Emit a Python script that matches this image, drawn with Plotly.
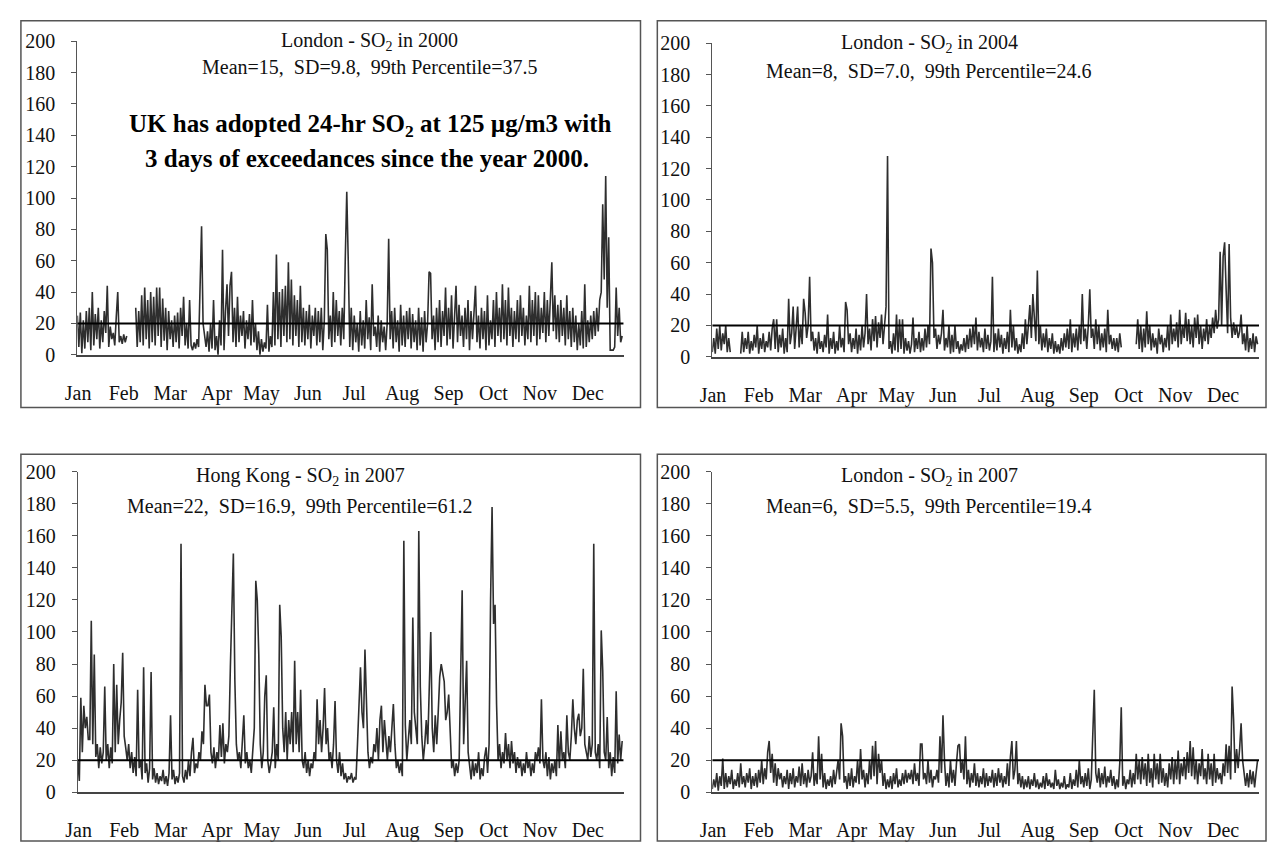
import plotly.graph_objects as go

N = None
# ---------------- data (approx. daily values, µg/m3) ----------------
months = ["Jan", "Feb", "Mar", "Apr", "May", "Jun", "Jul", "Aug", "Sep", "Oct", "Nov", "Dec"]
month_tick_days = [0.5, 31, 62, 93, 123, 154, 185, 217, 248, 278, 309, 341]
y_ticks = [0, 20, 40, 60, 80, 100, 120, 140, 160, 180, 200]
threshold = 20

london_2000 = [
    25, 5, 27, 1, 22, 4, 28, 8, 30, 3,
    40, 6, 26, 10, 30, 4, 22, 8, 28, 14,
    44, 5, 18, 10, 14, 6, 24, 40, 8, 12,
    7, 13, 8, 12, N, N, N, N, N, 30,
    5, 28, 8, 38, 6, 43, 10, 35, 4, 40,
    8, 37, 6, 43, 12, 43, 5, 36, 9, 30,
    3, 28, 10, 22, 5, 25, 8, 27, 4, 30,
    12, 37, 6, 20, 4, 35, 6, 3, 8, 4,
    10, 5, 48, 82, 20, 10, 5, 15, 2, 20,
    4, 35, 3, 12, 0, 22, 6, 67, 3, 28,
    45, 12, 44, 53, 8, 30, 5, 37, 8, 25,
    12, 28, 4, 22, 10, 26, 6, 35, 8, 20,
    3, 15, 0, 10, 2, 8, 4, 32, 2, 12,
    5, 40, 6, 64, 10, 40, 5, 42, 12, 44,
    8, 59, 10, 48, 6, 38, 12, 35, 5, 44,
    8, 30, 6, 28, 10, 32, 4, 25, 12, 30,
    6, 28, 8, 30, 3, 22, 77, 67, 10, 25,
    5, 40, 8, 35, 12, 28, 6, 30, 10, 61,
    104, 60, 5, 30, 3, 25, 8, 20, 2, 28,
    6, 22, 4, 35, 10, 24, 3, 45, 12, 18,
    5, 25, 2, 22, 8, 18, 3, 20, 74, 10,
    28, 4, 30, 8, 22, 2, 32, 6, 25, 5,
    28, 10, 30, 4, 26, 8, 22, 3, 30, 6,
    24, 2, 28, 8, 20, 53, 52, 10, 25, 3,
    30, 8, 35, 5, 28, 12, 43, 6, 30, 10,
    38, 4, 28, 44, 8, 32, 12, 25, 5, 30,
    10, 35, 3, 28, 10, 32, 44, 8, 25, 4,
    30, 10, 28, 3, 38, 6, 22, 10, 35, 5,
    40, 12, 30, 8, 45, 10, 35, 6, 43, 12,
    30, 5, 28, 10, 35, 8, 38, 12, 30, 6,
    25, 10, 44, 8, 35, 12, 40, 6, 38, 10,
    30, 14, 40, 8, 35, 12, 42, 59, 15, 38,
    10, 32, 8, 35, 12, 30, 6, 38, 10, 28,
    5, 30, 8, 25, 3, 20, 6, 28, 4, 45,
    5, 22, 8, 25, 10, 28, 12, 30, 15, 35,
    40, 96, 48, 114, 30, 75, 3, 3, 3, 5,
    43, 12, 30, 8, 12,
]

london_2004 = [
    3, 12, 2, 18, 5, 20, 4, 15, 8, 20,
    3, 12, 3, N, N, N, N, N, N, 2,
    16, 3, 12, 5, 16, 2, 10, 4, 14, 6,
    20, 2, 12, 5, 15, 3, 10, 6, 16, 4,
    18, 24, 5, 24, 3, 14, 6, 18, 2, 12,
    3, 37, 8, 15, 32, 5, 18, 32, 6, 20,
    8, 37, 28, 12, 20, 51, 10, 16, 4, 12,
    2, 16, 5, 10, 3, 14, 6, 27, 2, 12,
    5, 16, 2, 10, 4, 20, 6, 12, 3, 35,
    30, 8, 15, 3, 12, 5, 18, 2, 14, 4,
    20, 6, 15, 40, 8, 18, 4, 24, 10, 26,
    6, 22, 12, 27, 8, 20, 32, 128, 5, 10,
    2, 15, 4, 27, 3, 24, 5, 24, 2, 12,
    4, 10, 2, 8, 25, 3, 12, 5, 16, 3,
    12, 4, 18, 6, 20, 8, 69, 60, 12, 18,
    5, 14, 8, 15, 30, 4, 12, 6, 20, 2,
    14, 3, 20, 5, 10, 2, 8, 4, 12, 3,
    14, 5, 18, 6, 20, 8, 25, 4, 16, 6,
    12, 3, 18, 5, 14, 4, 10, 51, 3, 15,
    4, 18, 6, 14, 2, 12, 5, 16, 3, 30,
    6, 20, 4, 12, 2, 8, 3, 15, 5, 24,
    8, 20, 33, 12, 40, 25, 10, 55, 8, 20,
    4, 15, 6, 18, 3, 12, 5, 15, 2, 10,
    3, 8, 2, 12, 4, 15, 6, 18, 5, 24,
    3, 15, 6, 18, 4, 20, 8, 40, 10, 18,
    5, 20, 43, 12, 18, 5, 24, 8, 20, 4,
    15, 6, 18, 3, 30, 8, 14, 5, 12, 4,
    12, 3, 15, 6, N, N, N, N, N, N,
    N, N, N, 8, 24, 5, 20, 3, 18, 6,
    29, 8, 20, 4, 15, 6, 12, 2, 18, 8,
    14, 3, 12, 6, 20, 4, 27, 8, 18, 10,
    22, 6, 30, 8, 20, 12, 28, 10, 24, 8,
    20, 6, 25, 12, 27, 8, 20, 5, 18, 10,
    24, 8, 20, 12, 25, 15, 30, 18, 24, 67,
    20, 64, 73, 43, 15, 72, 25, 12, 22, 14,
    20, 12, 16, 27, 8, 15, 4, 20, 3, 12,
    5, 15, 3, 13, 8,
]

hongkong_2007 = [
    20, 7, 59, 25, 54, 40, 47, 33, 33, 107,
    30, 86, 22, 30, 15, 28, 18, 25, 66, 20,
    30, 15, 28, 18, 80, 25, 67, 30, 45, 56,
    87, 35, 28, 20, 30, 15, 25, 12, 22, 10,
    64, 15, 20, 8, 78, 12, 18, 6, 15, 75,
    8, 15, 6, 12, 5, 10, 7, 14, 5, 10,
    4, 12, 48, 8, 14, 5, 10, 6, 12, 155,
    10, 6, 14, 8, 20, 10, 25, 34, 12, 18,
    15, 25, 20, 38, 30, 67, 54, 54, 61, 25,
    18, 28, 15, 25, 20, 42, 22, 43, 18, 30,
    25, 35, 78, 123, 149, 70, 30, 20, 25, 15,
    30, 48, 18, 25, 15, 20, 12, 28, 40, 132,
    120, 86, 30, 15, 25, 60, 73, 20, 12, 18,
    25, 53, 15, 30, 20, 117, 97, 40, 25, 50,
    20, 45, 30, 50, 25, 82, 30, 50, 25, 64,
    20, 15, 25, 12, 20, 10, 18, 15, 25, 20,
    58, 30, 45, 25, 40, 65, 30, 40, 20, 25,
    15, 30, 57, 20, 12, 25, 10, 18, 8, 12,
    6, 10, 8, 12, 6, 9, 8, 30, 50, 78,
    50, 40, 89, 55, 25, 15, 22, 18, 30, 25,
    40, 20, 45, 54, 25, 45, 30, 20, 35, 25,
    40, 55, 30, 15, 20, 12, 18, 10, 157, 42,
    20, 35, 45, 30, 109, 50, 40, 30, 163, 66,
    35, 20, 30, 45, 30, 60, 100, 40, 25, 48,
    30, 50, 72, 80, 74, 69, 45, 50, 61, 35,
    15, 20, 10, 18, 12, 20, 68, 126, 30, 63,
    82, 25, 15, 8, 20, 10, 18, 12, 25, 8,
    15, 10, 22, 28, 12, 30, 120, 178, 105, 117,
    55, 20, 30, 15, 25, 18, 37, 20, 30, 15,
    32, 18, 25, 12, 22, 15, 20, 10, 18, 12,
    25, 15, 20, 10, 18, 12, 25, 20, 28, 18,
    58, 20, 15, 25, 10, 22, 8, 18, 12, 20,
    10, 42, 15, 38, 20, 25, 15, 48, 25, 20,
    35, 58, 40, 30, 45, 49, 35, 40, 77, 30,
    25, 20, 35, 22, 30, 155, 25, 20, 30, 15,
    101, 76, 25, 20, 47, 15, 25, 10, 22, 12,
    63, 18, 36, 20, 32,
]

london_2007 = [
    2, 8, 3, 12, 1, 10, 4, 21, 2, 12,
    3, 10, 5, 14, 2, 8, 4, 12, 3, 18,
    5, 10, 3, 12, 6, 15, 2, 10, 4, 12,
    3, 14, 6, 20, 5, 15, 8, 25, 32, 12,
    24, 6, 18, 4, 15, 8, 12, 3, 10, 5,
    14, 2, 12, 5, 15, 3, 10, 6, 16, 4,
    18, 5, 12, 3, 14, 6, 10, 25, 4, 12,
    5, 35, 8, 24, 3, 12, 2, 8, 4, 10,
    3, 14, 5, 12, 20, 8, 43, 35, 6, 10,
    2, 12, 4, 15, 3, 10, 6, 20, 5, 27,
    8, 14, 3, 12, 5, 20, 8, 29, 10, 32,
    5, 24, 12, 20, 4, 12, 2, 8, 3, 10,
    2, 12, 5, 15, 3, 8, 4, 12, 5, 14,
    6, 12, 8, 14, 5, 18, 7, 12, 4, 30,
    30, 8, 12, 5, 20, 6, 14, 3, 10, 8,
    14, 6, 35, 12, 48, 20, 4, 12, 3, 20,
    6, 14, 4, 18, 29, 30, 12, 20, 8, 35,
    5, 14, 3, 12, 6, 18, 4, 12, 3, 10,
    5, 15, 3, 12, 4, 10, 6, 14, 3, 12,
    4, 15, 6, 12, 3, 10, 5, 18, 4, 22,
    32, 8, 14, 32, 5, 12, 3, 10, 2, 8,
    3, 10, 2, 8, 4, 12, 3, 8, 2, 6,
    3, 10, 2, 12, 4, 8, 3, 6, 2, 14,
    4, 8, 2, 6, 3, 10, 2, 5, 3, 12,
    2, 8, 4, 14, 3, 20, 5, 10, 3, 12,
    4, 15, 2, 8, 38, 64, 12, 6, 15, 3,
    12, 5, 16, 3, 10, 6, 14, 4, 10, 2,
    8, 3, 18, 53, 4, 10, 2, 8, 5, 14,
    3, 12, 5, 24, 8, 20, 5, 22, 8, 18,
    4, 24, 6, 15, 3, 24, 8, 18, 5, 24,
    6, 15, 4, 12, 3, 18, 8, 22, 5, 20,
    8, 26, 5, 18, 10, 22, 8, 25, 12, 32,
    10, 28, 8, 20, 5, 18, 10, 27, 8, 15,
    5, 24, 8, 18, 4, 24, 6, 15, 8, 12,
    5, 18, 10, 30, 12, 29, 8, 66, 45, 12,
    27, 15, 27, 43, 20, 10, 4, 12, 3, 14,
    5, 13, 3, 12, 20,
]

panel_titles = [
    "London - SO<sub>2</sub> in 2000",
    "London - SO<sub>2</sub> in 2004",
    "Hong Kong - SO<sub>2</sub> in 2007",
    "London - SO<sub>2</sub> in 2007",
]
panel_stats = [
    "Mean=15,\u00a0 SD=9.8,\u00a0 99th Percentile=37.5",
    "Mean=8,\u00a0 SD=7.0,\u00a0 99th Percentile=24.6",
    "Mean=22,\u00a0 SD=16.9,\u00a0 99th Percentile=61.2",
    "Mean=6,\u00a0 SD=5.5,\u00a0 99th Percentile=19.4",
]
series = [london_2000, london_2004, hongkong_2007, london_2007]
note_lines = [
    "UK has adopted 24-hr SO<sub>2</sub> at 125 µg/m3 with",
    "3 days of exceedances since the year 2000.",
]

# ---------------- layout (pixel geometry) ----------------
W, H = 1267, 850
FONT = "Liberation Serif"


def fx(px):
    return px / W


def fy(py):
    return 1 - py / H


# plot areas: (x_left, x_right, y_top(200), y_bottom(0)) in pixels
areas = [
    (65, 617, 31, 353),
    (706.5, 1259, 33, 355),
    (65.5, 617, 473, 802),
    (706.5, 1259, 473, 802),
]
# panel frames (x0, x1, y0, y1) in pixels
frames = [
    (8, 634, 10, 407),
    (651, 1266, 10, 407),
    (8, 634, 455, 852),
    (651, 1266, 455, 852),
]
# title / stats centres (x, y) in pixels
title_pos = [(360, 31), (926, 33), (290, 478), (926, 478)]
stats_pos = [(360, 58), (925, 62), (289, 508), (925, 508)]

fig = go.Figure()
layout = dict(
    width=W, height=H,
    margin=dict(l=0, r=0, t=0, b=0),
    paper_bgcolor="white", plot_bgcolor="white",
    showlegend=False,
    shapes=[], annotations=[],
    font=dict(family=FONT, color="#111111", size=20),
)

for i, (vals, area) in enumerate(zip(series, areas)):
    n = i + 1
    xa = "x" if n == 1 else f"x{n}"
    ya = "y" if n == 1 else f"y{n}"
    days = list(range(len(vals)))
    fig.add_trace(go.Scatter(
        x=days, y=vals, mode="lines", xaxis=xa, yaxis=ya,
        line=dict(color="#2e2e2e", width=1.6), connectgaps=False,
        hoverinfo="skip",
    ))
    xl, xr, yt, yb = area
    layout["xaxis" if n == 1 else f"xaxis{n}"] = dict(
        domain=[fx(xl), fx(xr)], anchor=ya, range=[0, 365],
        showgrid=False, zeroline=False, showline=True,
        linecolor="#444444", linewidth=1.5,
        ticks="", tickvals=month_tick_days, ticktext=months,
        ticklabelstandoff=19,
        tickfont=dict(family=FONT, size=20, color="#111111"),
    )
    layout["yaxis" if n == 1 else f"yaxis{n}"] = dict(
        domain=[fy(yb), fy(yt)], anchor=xa, range=[0, 200],
        showgrid=False, zeroline=False, showline=True,
        linecolor="#555555", linewidth=1.2,
        ticks="outside", ticklen=5, tickcolor="#555555", tickwidth=1.2,
        tickvals=y_ticks, ticklabelstandoff=12,
        tickfont=dict(family=FONT, size=20, color="#111111"),
    )
    # threshold line at 20
    layout["shapes"].append(dict(
        type="line", xref=xa, yref=ya, x0=0, x1=365, y0=threshold, y1=threshold,
        line=dict(color="black", width=2),
    ))
    # frame
    f0, f1, g0, g1 = frames[i]
    layout["shapes"].append(dict(
        type="rect", xref="paper", yref="paper",
        x0=fx(f0), x1=fx(f1), y0=fy(g1), y1=fy(g0),
        line=dict(color="#555555", width=1.5), fillcolor="rgba(0,0,0,0)",
    ))
    tx, ty = title_pos[i]
    layout["annotations"].append(dict(
        text=panel_titles[i], xref="paper", yref="paper",
        x=fx(tx), y=fy(ty), xanchor="center", yanchor="middle",
        showarrow=False, font=dict(family=FONT, size=20, color="#111111"),
    ))
    sx, sy = stats_pos[i]
    layout["annotations"].append(dict(
        text=panel_stats[i], xref="paper", yref="paper",
        x=fx(sx), y=fy(sy), xanchor="center", yanchor="middle",
        showarrow=False, font=dict(family=FONT, size=20, color="#111111"),
    ))

# bold note in first panel
for text, (nx, ny) in zip(note_lines, [(361, 118), (358, 151)]):
    layout["annotations"].append(dict(
        text=f"<b>{text}</b>", xref="paper", yref="paper",
        x=fx(nx), y=fy(ny), xanchor="center", yanchor="middle",
        showarrow=False, font=dict(family=FONT, size=25, color="black"),
    ))

fig.update_layout(**layout)
fig.write_html("out.html")
